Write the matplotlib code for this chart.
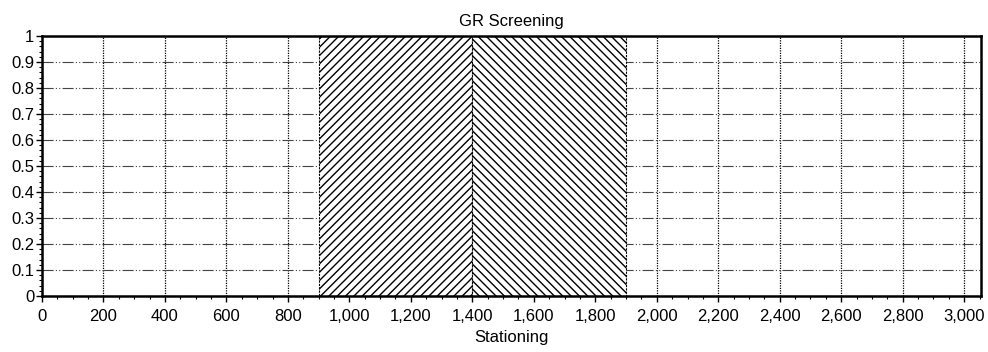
import matplotlib
matplotlib.use("Agg")
import matplotlib.pyplot as plt
from matplotlib.ticker import MultipleLocator, FuncFormatter

plt.rcParams["font.family"] = ["Liberation Sans", "DejaVu Sans"]
plt.rcParams["hatch.linewidth"] = 1.0

# Screening segments (stationing start, length, flag value, hatch style)
seg_start = [900, 1400]
seg_len = [500, 500]
seg_value = [1, 1]
seg_hatch = ["////", "\\\\\\\\"]

x_ticks = list(range(0, 3001, 200))
y_ticks = [0, 0.1, 0.2, 0.3, 0.4, 0.5, 0.6, 0.7, 0.8, 0.9, 1]

fig = plt.figure(figsize=(9.88, 3.52), dpi=100)
ax = fig.add_axes([0.0425, 0.159, 0.9505, 0.739])

ax.bar(seg_start, seg_value, width=seg_len, align="edge",
       color="white", edgecolor="black", hatch=seg_hatch,
       linewidth=0.8, linestyle=(0, (2, 1)), zorder=2)

ax.set_xlim(0, 3055)
ax.set_ylim(0, 1)

ax.set_xticks(x_ticks)
ax.xaxis.set_major_formatter(FuncFormatter(lambda v, p: f"{int(v):,}"))
ax.xaxis.set_minor_locator(MultipleLocator(50))
ax.set_yticks(y_ticks)
ax.yaxis.set_major_formatter(FuncFormatter(lambda v, p: f"{v:g}"))
ax.yaxis.set_minor_locator(MultipleLocator(0.02))

ax.tick_params(axis="both", which="major", direction="out", length=4.5,
               width=1, labelsize=12, colors="black")
ax.tick_params(axis="x", which="major", pad=5)
ax.tick_params(axis="y", which="major", pad=1)
ax.tick_params(axis="both", which="minor", direction="out", length=2.5, width=0.8)

# grid: dotted verticals, dash-dot horizontals
ax.grid(axis="x", which="major", color="black", linestyle=(0, (1, 1)),
        linewidth=0.9, zorder=1)
ax.grid(axis="y", which="major", color="#444444",
        linestyle=(0, (10, 2, 1, 2, 1, 2)), linewidth=0.8, zorder=1)
ax.set_axisbelow(True)

for side in ["left", "bottom", "right", "top"]:
    ax.spines[side].set_linewidth(1.8)
    ax.spines[side].set_color("black")

ax.set_title("GR Screening", fontsize=12, pad=7)
ax.set_xlabel("Stationing", fontsize=12, labelpad=4)

fig.savefig("out.png", dpi=100)
